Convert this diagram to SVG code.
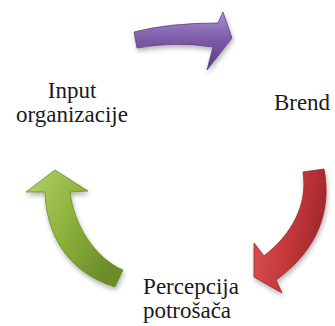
<svg xmlns="http://www.w3.org/2000/svg" width="335" height="326" viewBox="0 0 335 326">
  <style>
    .arrow { filter: url(#soft); stroke-width: 0.8; stroke-linejoin: round; }
  </style>
  <defs>
    <filter id="soft" x="-20%" y="-20%" width="140%" height="150%">
      <feGaussianBlur in="SourceAlpha" stdDeviation="2.5"/>
      <feOffset dx="1" dy="3" result="blur"/>
      <feComponentTransfer><feFuncA type="linear" slope="0.3"/></feComponentTransfer>
      <feMerge><feMergeNode/><feMergeNode in="SourceGraphic"/></feMerge>
    </filter>
    <linearGradient id="gPurple" x1="0" y1="0" x2="0" y2="1">
      <stop offset="0" stop-color="#A890CE"/>
      <stop offset="0.45" stop-color="#7E5CAA"/>
      <stop offset="1" stop-color="#5A3C84"/>
    </linearGradient>
    <linearGradient id="gRed" x1="0" y1="0.2" x2="1" y2="0.5">
      <stop offset="0" stop-color="#DC5552"/>
      <stop offset="0.55" stop-color="#C4373A"/>
      <stop offset="1" stop-color="#9C2629"/>
    </linearGradient>
    <linearGradient id="gGreen" x1="0" y1="0" x2="1" y2="0.6">
      <stop offset="0" stop-color="#B2D26A"/>
      <stop offset="0.5" stop-color="#8EB33D"/>
      <stop offset="1" stop-color="#6C8C27"/>
    </linearGradient>
  </defs>

  <!-- curved cycle arrows -->
  <g id="connectors">
    <path id="arrow-top" class="arrow" fill="url(#gPurple)" stroke="#5E4188"
          d="M134,32 Q168,23 218,23 L223,12 L232,38 L207,70 L213,47 Q175,41 137,48 Z"/>
    <path id="arrow-right" class="arrow" fill="url(#gRed)" stroke="#9A2729"
          d="M303,172 L324,169 C332,210 318,250 276,280 L282,293 L254,277 L254,243 L264,256 C292,234 308,205 303,172 Z"/>
    <path id="arrow-left" class="arrow" fill="url(#gGreen)" stroke="#6A8A26"
          d="M123,270 L115,287 C66,272 46,232 45,192 L26,192 L55,170 L88,191 L70,192 C74,225 95,258 123,270 Z"/>
  </g>

  <!-- labels -->
  <g font-family="Liberation Serif, DejaVu Serif, serif" font-size="23" fill="#1a1a1a" text-anchor="middle">
    <g id="node-input">
      <text x="72" y="98">Input</text>
      <text x="72" y="122">organizacije</text>
    </g>
    <g id="node-brend">
      <text x="302" y="110">Brend</text>
    </g>
    <g id="node-percepcija">
      <text x="191" y="294">Percepcija</text>
      <text x="187" y="318">potrošača</text>
    </g>
  </g>
</svg>
